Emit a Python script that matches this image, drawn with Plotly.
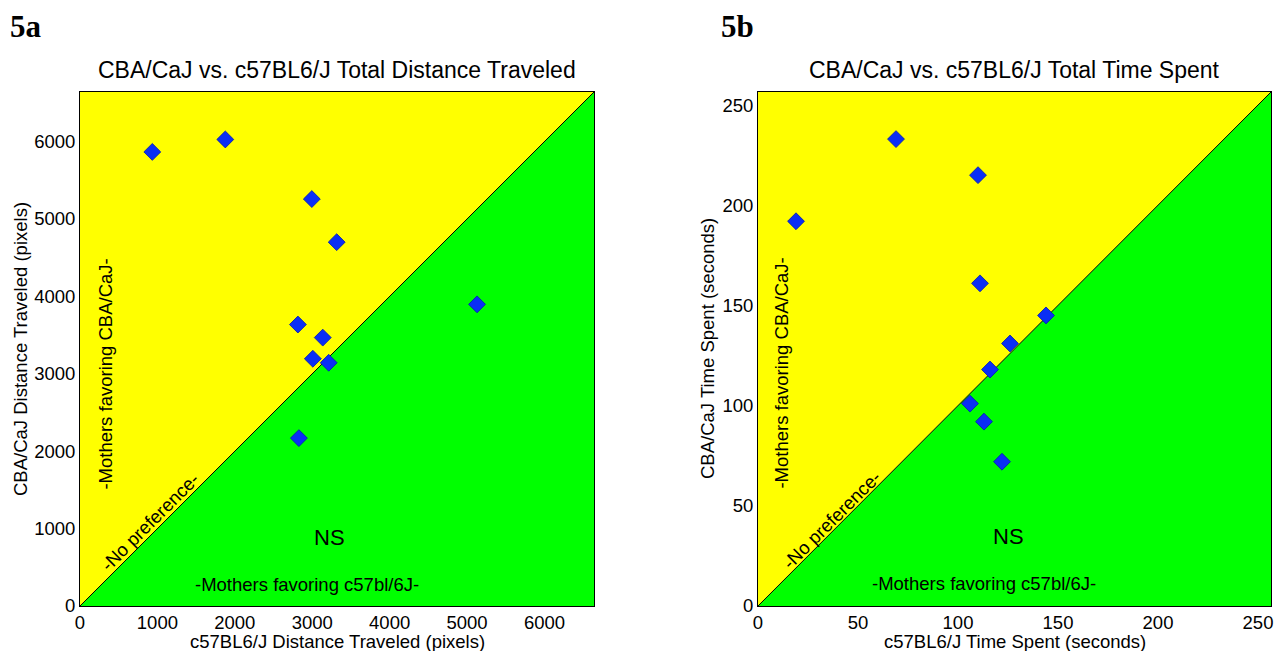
import plotly.graph_objects as go

# ---- data ----
dist_c57 = [934, 1877, 2995, 3316, 2815, 3136, 3008, 3213, 2828, 5129]
dist_cba = [5866, 6027, 5257, 4700, 3636, 3467, 3194, 3142, 2169, 3897]
time_c57 = [19, 69, 110, 111, 116, 126, 144, 106, 113, 122]
time_cba = [192, 233, 215, 161, 118, 131, 145, 101, 92, 72]

dist_ticks = [0, 1000, 2000, 3000, 4000, 5000, 6000]
time_ticks = [0, 50, 100, 150, 200, 250]

dist_range = 6640
time_range = 256.5

W, H = 1275, 651
FONT = "Liberation Sans, Arial, sans-serif"
SERIF = "Liberation Serif, Times New Roman, serif"
BLUE = "#0A2EF5"

def px_x(p):
    return p / W

def px_y(p):
    return 1 - p / H

fig = go.Figure()

marker = dict(symbol="diamond", size=13, color=BLUE, line=dict(width=0.8, color="#0018B0"))
fig.add_trace(go.Scatter(x=dist_c57, y=dist_cba, mode="markers", xaxis="x", yaxis="y",
                         marker=marker, showlegend=False, hoverinfo="x+y"))
fig.add_trace(go.Scatter(x=time_c57, y=time_cba, mode="markers", xaxis="x2", yaxis="y2",
                         marker=marker, showlegend=False, hoverinfo="x+y"))

ydom = [px_y(606), px_y(92)]
axis_common = dict(showgrid=False, zeroline=False, showline=True, linecolor="black",
                   linewidth=1, mirror=True, ticks="", color="black", automargin=False,
                   tickfont=dict(family=FONT, size=18.5, color="black"))

fig.update_layout(
    width=W, height=H,
    margin=dict(l=0, r=0, t=0, b=0, pad=0),
    paper_bgcolor="white", plot_bgcolor="white",
    xaxis=dict(domain=[px_x(80), px_x(594)], range=[0, dist_range], anchor="y",
               tickvals=dist_ticks, **axis_common),
    yaxis=dict(domain=ydom, range=[0, dist_range], anchor="x",
               tickvals=dist_ticks, **axis_common),
    xaxis2=dict(domain=[px_x(758), px_x(1271)], range=[0, time_range], anchor="y2",
                tickvals=time_ticks, **axis_common),
    yaxis2=dict(domain=ydom, range=[0, time_range], anchor="x2",
                tickvals=time_ticks, **axis_common),
)

shapes = []
for xr, yr, R in [("x", "y", dist_range), ("x2", "y2", time_range)]:
    shapes.append(dict(type="path", xref=xr, yref=yr, layer="below",
                       path=f"M 0,0 L 0,{R} L {R},{R} Z",
                       fillcolor="#FFFF00", line=dict(width=0)))
    shapes.append(dict(type="path", xref=xr, yref=yr, layer="below",
                       path=f"M 0,0 L {R},0 L {R},{R} Z",
                       fillcolor="#00FF00", line=dict(width=0)))
    shapes.append(dict(type="line", xref=xr, yref=yr, layer="below",
                       x0=0, y0=0, x1=R, y1=R, line=dict(color="black", width=1)))
fig.update_layout(shapes=shapes)

ann = []
def txt(text, x, y, xref, yref, size=18.5, angle=0, family=FONT, weight="normal",
        xanchor="center", yanchor="middle"):
    ann.append(dict(text=text, x=x, y=y, xref=xref, yref=yref, showarrow=False,
                    textangle=angle, xanchor=xanchor, yanchor=yanchor,
                    font=dict(family=family, size=size, color="black", weight=weight)))

# panel labels
txt("5a", px_x(8), px_y(26), "paper", "paper", size=31, family=SERIF, weight="bold", xanchor="left")
txt("5b", px_x(719), px_y(26), "paper", "paper", size=31, family=SERIF, weight="bold", xanchor="left")

# titles
txt("CBA/CaJ vs. c57BL6/J Total Distance Traveled", 0.5, px_y(70), "x domain", "paper", size=23)
txt("CBA/CaJ vs. c57BL6/J Total Time Spent", 0.5, px_y(70), "x2 domain", "paper", size=23)

# axis titles
txt("c57BL6/J Distance Traveled (pixels)", 0.5, px_y(641), "x domain", "paper")
txt("c57BL6/J Time Spent (seconds)", 0.5, px_y(641), "x2 domain", "paper")
txt("CBA/CaJ Distance Traveled (pixels)", px_x(20), 0.5, "paper", "y domain", angle=-90)
txt("CBA/CaJ Time Spent (seconds)", px_x(707), 0.5, "paper", "y2 domain", angle=-90)

# in-plot labels, panel a
txt("-Mothers favoring CBA/CaJ-", 334, 3000, "x", "y", angle=-90)
txt("-No preference-", 907, 1093, "x", "y", angle=-45)
txt("NS", 3226, 886, "x", "y", size=22)
txt("-Mothers favoring c57bl/6J-", 2930, 276, "x", "y")
# panel b
txt("-Mothers favoring CBA/CaJ-", 12, 116, "x2", "y2", angle=-90)
txt("-No preference-", 37, 43, "x2", "y2", angle=-45)
txt("NS", 125, 34.6, "x2", "y2", size=22)
txt("-Mothers favoring c57bl/6J-", 113, 11, "x2", "y2")

fig.update_layout(annotations=ann)

fig.write_html("out.html")
